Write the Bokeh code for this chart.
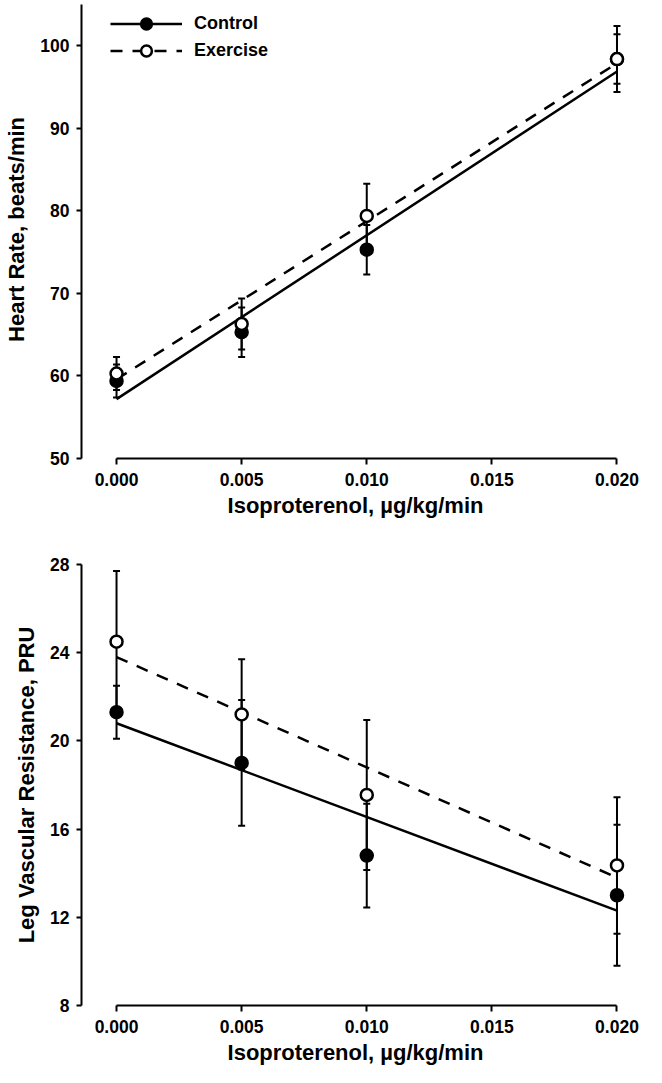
from bokeh.plotting import figure
from bokeh.layouts import column
from bokeh.models import (ColumnDataSource, Whisker, TeeHead, FixedTicker, Legend, LegendItem, Range1d)
from bokeh.embed import file_html
from bokeh.resources import INLINE

# ---------------- data ----------------
doses = [0.0, 0.005, 0.010, 0.020]
dose_ticks = [0.0, 0.005, 0.010, 0.015, 0.020]

hr_control = [59.4, 65.3, 75.3, 98.4]
hr_control_se = [2.0, 3.0, 3.0, 3.0]
hr_exercise = [60.3, 66.3, 79.4, 98.4]
hr_exercise_se = [2.0, 3.1, 3.9, 4.0]

fit_x = [0.0, 0.020]
hr_control_fit = [57.2, 96.9]
hr_exercise_fit = [59.6, 97.9]

lvr_control = [21.3, 19.0, 14.8, 13.0]
lvr_control_se = [1.2, 2.85, 2.35, 3.2]
lvr_exercise = [24.5, 21.2, 17.55, 14.35]
lvr_exercise_se = [3.2, 2.5, 3.4, 3.1]
lvr_control_fit = [20.8, 12.3]
lvr_exercise_fit = [23.8, 13.8]

hr_ticks = [50, 60, 70, 80, 90, 100]
lvr_ticks = [8, 12, 16, 20, 24, 28]

FONT = "Liberation Sans"
DASH = "12 10"


def style_axes(p, yticks, ybounds, xlabel, ylabel):
    for ax in (p.xaxis[0], p.yaxis[0]):
        ax.axis_line_width = 2
        ax.major_tick_line_width = 2
        ax.minor_tick_line_color = None
        ax.major_tick_in = 0
        ax.major_label_text_font = FONT
        ax.major_label_text_font_style = "bold"
        ax.major_label_text_font_size = "17.5px"
        ax.major_label_text_color = "black"
        ax.axis_label_text_font = FONT
        ax.axis_label_text_font_style = "bold"
        ax.axis_label_text_font_size = "22px"
        ax.axis_label_text_color = "black"
        ax.axis_line_color = "black"
        ax.major_tick_line_color = "black"
    p.xaxis[0].ticker = FixedTicker(ticks=dose_ticks)
    p.xaxis[0].major_label_overrides = {t: f"{t:.3f}" for t in dose_ticks}
    p.xaxis[0].bounds = (0.0, 0.020)
    p.xaxis[0].major_tick_out = 6
    p.xaxis[0].major_label_standoff = 8
    p.xaxis[0].axis_label_standoff = 4
    p.xaxis[0].axis_label = xlabel
    p.yaxis[0].ticker = FixedTicker(ticks=yticks)
    p.yaxis[0].bounds = ybounds
    p.yaxis[0].major_tick_out = 5
    p.yaxis[0].major_label_standoff = 7
    p.yaxis[0].axis_label_standoff = 8
    p.yaxis[0].axis_label = ylabel
    p.xgrid.visible = False
    p.ygrid.visible = False
    p.outline_line_color = None


def add_series(p, mean, se, fit, dash, fill):
    src = ColumnDataSource(dict(x=doses, y=mean,
                                upper=[m + s for m, s in zip(mean, se)],
                                lower=[m - s for m, s in zip(mean, se)]))
    w = Whisker(source=src, base="x", upper="upper", lower="lower",
                line_color="black", line_width=2, level="underlay",
                upper_head=TeeHead(size=7, line_width=2, line_color="black"),
                lower_head=TeeHead(size=7, line_width=2, line_color="black"))
    p.add_layout(w)
    ln = p.line(fit_x, fit, line_color="black", line_width=2.5, line_dash=dash)
    sc = p.scatter("x", "y", source=src, size=12, marker="circle",
                   fill_color=fill, line_color="black", line_width=2.5)
    return ln, sc


# ---------------- top: heart rate ----------------
p1 = figure(width=644, height=550, output_backend="svg", toolbar_location=None,
            x_range=Range1d(-0.0014, 0.0205), y_range=Range1d(50, 105.5),
            min_border_left=81, min_border_right=15, min_border_top=0,
            min_border_bottom=92, background_fill_color="white")
style_axes(p1, hr_ticks, (50, 105), "Isoproterenol, µg/kg/min", "Heart Rate, beats/min")
l1c, s1c = add_series(p1, hr_control, hr_control_se, hr_control_fit, "solid", "black")
l1e, s1e = add_series(p1, hr_exercise, hr_exercise_se, hr_exercise_fit, DASH, "white")

legend = Legend(items=[LegendItem(label="Control", renderers=[l1c, s1c]),
                       LegendItem(label="Exercise", renderers=[l1e, s1e])],
                location=(29, 394), padding=0, margin=0, spacing=0,
                glyph_width=72, glyph_height=27, label_standoff=12,
                label_text_font=FONT, label_text_font_style="bold",
                label_text_font_size="18px", label_text_color="black",
                background_fill_alpha=0, border_line_alpha=0)
p1.add_layout(legend)

# ---------------- bottom: leg vascular resistance ----------------
p2 = figure(width=644, height=517, output_backend="svg", toolbar_location=None,
            x_range=Range1d(-0.0014, 0.0205), y_range=Range1d(8, 28),
            min_border_left=81, min_border_right=15, min_border_top=14,
            min_border_bottom=57, background_fill_color="white")
style_axes(p2, lvr_ticks, (8, 28), "Isoproterenol, µg/kg/min", "Leg Vascular Resistance, PRU")
add_series(p2, lvr_control, lvr_control_se, lvr_control_fit, "solid", "black")
add_series(p2, lvr_exercise, lvr_exercise_se, lvr_exercise_fit, DASH, "white")

layout = column(p1, p2, spacing=0)
open("out.html", "w").write(file_html(layout, INLINE))
